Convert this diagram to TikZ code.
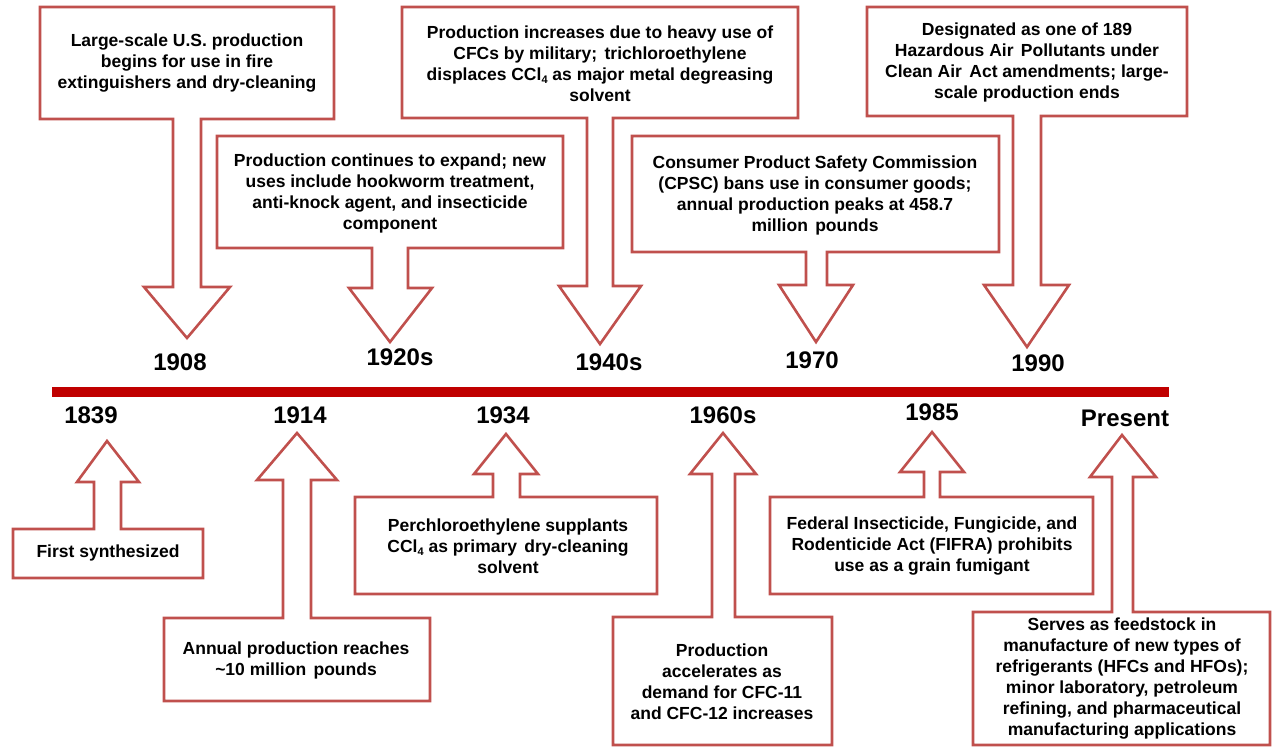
\documentclass[tikz,border=0pt]{standalone}
\usepackage{fontspec}
\setmainfont{Liberation Sans}
\definecolor{cred}{HTML}{C0504D}
\definecolor{barred}{HTML}{C00000}
\tikzset{
  callout/.style={draw=cred, line width=2.6pt, fill=white, line join=miter},
  txt/.style={font=\fontsize{17.5}{21}\selectfont\bfseries, align=center, text=black, inner sep=0pt},
  year/.style={font=\fontsize{24}{28}\selectfont\bfseries, text=black, inner sep=0pt}
}
\newcommand{\subf}{\raisebox{-0.35ex}{\fontsize{11}{11}\selectfont 4}}
\newcommand{\xs}{\hspace{2.5pt}}
\begin{document}
\begin{tikzpicture}[x=1pt,y=-1pt]
\useasboundingbox (0,0) rectangle (1272,747);
% timeline bar
\fill[barred] (52,387) rectangle (1169,397);
% down callouts
\draw[callout] (40,7) -- (334,7) -- (334,119) -- (201,119) -- (201,287) -- (230,287) -- (187,338) -- (144,287) -- (173,287) -- (173,119) -- (40,119) -- cycle;
\draw[callout] (217,136) -- (563,136) -- (563,248) -- (408,248) -- (408,288) -- (432,288) -- (390,342) -- (349,288) -- (372,288) -- (372,248) -- (217,248) -- cycle;
\draw[callout] (402,7) -- (798,7) -- (798,118) -- (613,118) -- (613,286) -- (641,286) -- (600,344) -- (559,286) -- (587,286) -- (587,118) -- (402,118) -- cycle;
\draw[callout] (632,136) -- (999,136) -- (999,252) -- (827,252) -- (827,285) -- (853,285) -- (816,342) -- (779,285) -- (806,285) -- (806,252) -- (632,252) -- cycle;
\draw[callout] (867,7) -- (1187,7) -- (1187,116) -- (1041,116) -- (1041,285) -- (1069,285) -- (1027,347) -- (984,285) -- (1013,285) -- (1013,116) -- (867,116) -- cycle;
% up callouts
\draw[callout] (13,578) -- (203,578) -- (203,529) -- (121,529) -- (121,482) -- (139,482) -- (107,441) -- (77,482) -- (94,482) -- (94,529) -- (13,529) -- cycle;
\draw[callout] (164,701) -- (430,701) -- (430,618) -- (311,618) -- (311,480) -- (337,480) -- (297,433) -- (257,480) -- (283,480) -- (283,618) -- (164,618) -- cycle;
\draw[callout] (355,594) -- (657,594) -- (657,497) -- (520,497) -- (520,474) -- (538,474) -- (506,434) -- (474,474) -- (493,474) -- (493,497) -- (355,497) -- cycle;
\draw[callout] (613,745) -- (832,745) -- (832,617) -- (735,617) -- (735,474) -- (756,474) -- (723,433) -- (690,474) -- (712,474) -- (712,617) -- (613,617) -- cycle;
\draw[callout] (770,594) -- (1093,594) -- (1093,497) -- (940,497) -- (940,472) -- (964,472) -- (932,432) -- (900,472) -- (924,472) -- (924,497) -- (770,497) -- cycle;
\draw[callout] (973,745) -- (1270,745) -- (1270,612) -- (1133,612) -- (1133,477) -- (1156,477) -- (1122,435) -- (1090,477) -- (1112,477) -- (1112,612) -- (973,612) -- cycle;
% texts top
\node[txt] (t1908) at (187,63) {Large-scale U.S. production\\begins for use in fire\\extinguishers and dry-cleaning};
\node[txt] (t1920) at (390,193) {Production continues to expand; new\\uses include hookworm treatment,\\anti-knock agent, and insecticide\\component};
\node[txt] (t1940) at (600,64) {Production increases due to heavy use of\\CFCs by military;\xs{} trichloroethylene\\displaces CCl\subf{} as major metal degreasing\\solvent};
\node[txt] (t1970) at (815,195) {Consumer Product Safety Commission\\(CPSC) bans use in consumer goods;\\annual production peaks at 458.7\\million\xs{} pounds};
\node[txt] (t1990) at (1027,62) {Designated as one of 189\\Hazardous Air\xs{} Pollutants under\\Clean Air\xs{} Act amendments; large-\\scale production ends};
% texts bottom
\node[txt] (t1839) at (108,553) {First synthesized};
\node[txt] (t1914) at (296,660) {Annual production reaches\\\textasciitilde10 million\xs{} pounds};
\node[txt] (t1934) at (508,546) {Perchloroethylene supplants\\CCl\subf{} as primary\xs{} dry-cleaning\\solvent};
\node[txt] (t1960) at (722,682) {Production\\accelerates as\\demand for CFC-11\\and CFC-12 increases};
\node[txt] (t1985) at (932,546) {Federal Insecticide, Fungicide, and\\Rodenticide Act (FIFRA) prohibits\\use as a grain fumigant};
\node[txt] (tpres) at (1122,679) {Serves as feedstock in\\manufacture of new types of\\refrigerants (HFCs and HFOs);\\minor laboratory, petroleum\\refining, and pharmaceutical\\manufacturing applications};
% year labels
\node[year] (y1908) at (180,362) {1908};
\node[year] (y1920) at (400,357) {1920s};
\node[year] (y1940) at (609,362) {1940s};
\node[year] (y1970) at (812,360) {1970};
\node[year] (y1990) at (1038,363) {1990};
\node[year] (y1839) at (91,415) {1839};
\node[year] (y1914) at (300,415) {1914};
\node[year] (y1934) at (503,415) {1934};
\node[year] (y1960) at (723,415) {1960s};
\node[year] (y1985) at (932,412) {1985};
\node[year] (ypres) at (1125,418) {Present};
\end{tikzpicture}
\end{document}
